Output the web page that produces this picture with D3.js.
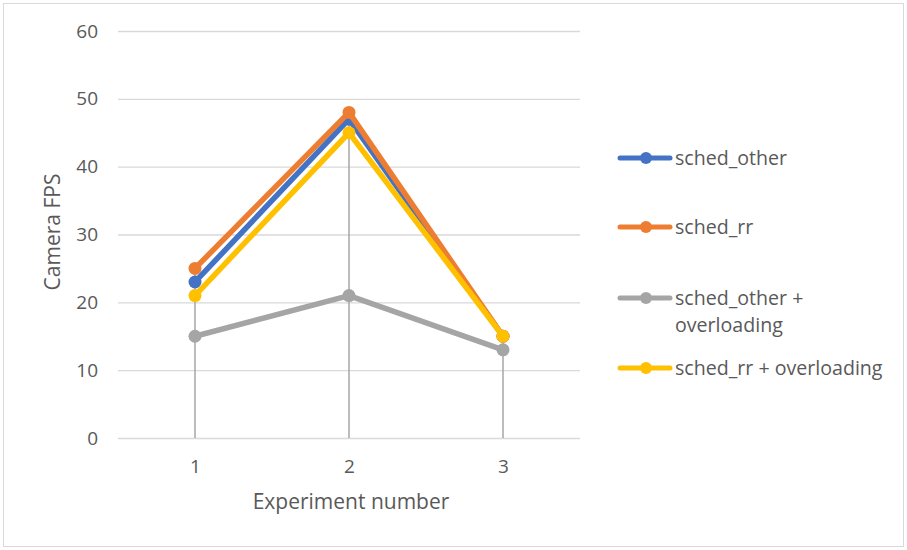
<!DOCTYPE html>
<html>
<head>
<meta charset="utf-8">
<script src="https://cdn.jsdelivr.net/npm/d3@7"></script>
<style>
  body { margin: 0; background: #fff; }
  text { font-family: "Open Sans", Lato, sans-serif; fill: #595959; }
</style>
</head>
<body>
<svg width="907" height="550"></svg>
<script>
let experiments = ['1', '2', '3']
let yTicks = [0, 10, 20, 30, 40, 50, 60]
let schedOther = [23, 47, 15]
let schedRr = [25, 48, 15]
let schedOtherOver = [15, 21, 13]
let schedRrOver = [21, 45, 15]

let series = [
  { name: ['sched_other'], values: schedOther, color: '#4472c4' },
  { name: ['sched_rr'], values: schedRr, color: '#ed7d31' },
  { name: ['sched_other +', 'overloading'], values: schedOtherOver, color: '#a5a5a5' },
  { name: ['sched_rr + overloading'], values: schedRrOver, color: '#ffc000' }
]

let svg = d3.select('svg')

svg.append('rect')
  .attr('x', 3.5).attr('y', 3.5)
  .attr('width', 900).attr('height', 543)
  .attr('fill', '#fff')
  .attr('stroke', '#d9d9d9')

let margin = { top: 31, left: 118, right: 580, bottom: 438 }

let x = d3.scalePoint()
  .domain(experiments)
  .range([margin.left, margin.right])
  .padding(0.5)

let y = d3.scaleLinear()
  .domain([0, 60])
  .range([margin.bottom, margin.top])

// gridlines + y tick labels
let yAxis = svg.append('g')
  .attr('transform', `translate(${margin.left},0)`)
  .call(d3.axisLeft(y).tickValues(yTicks).tickSize(-(margin.right - margin.left)).tickPadding(20))
yAxis.select('.domain').remove()
yAxis.selectAll('line').attr('stroke', '#d9d9d9').attr('stroke-width', 1.3)
yAxis.selectAll('text').style('font-size', '19px')

// drop lines
svg.append('g')
  .selectAll('line')
  .data(experiments)
  .join('line')
  .attr('x1', d => x(d)).attr('x2', d => x(d))
  .attr('y1', y(0))
  .attr('y2', (d, i) => y(d3.max(series, s => s.values[i])))
  .attr('stroke', '#a6a6a6')
  .attr('stroke-width', 1.5)

let xAxis = svg.append('g')
  .attr('transform', `translate(0,${margin.bottom})`)
  .call(d3.axisBottom(x).tickSize(0).tickPadding(22))
xAxis.select('.domain').remove()
xAxis.selectAll('text').style('font-size', '19px')

let line = d3.line()
  .x((d, i) => x(experiments[i]))
  .y(d => y(d))

series.forEach(s => {
  svg.append('path')
    .datum(s.values)
    .attr('d', line)
    .attr('fill', 'none')
    .attr('stroke', s.color)
    .attr('stroke-width', 5.5)
    .attr('stroke-linejoin', 'round')
    .attr('stroke-linecap', 'round')
  svg.append('g')
    .selectAll('circle')
    .data(s.values)
    .join('circle')
    .attr('cx', (d, i) => x(experiments[i]))
    .attr('cy', d => y(d))
    .attr('r', 6.5)
    .attr('fill', s.color)
})

// axis titles
svg.append('text')
  .attr('transform', `translate(60,232) rotate(-90)`)
  .attr('text-anchor', 'middle')
  .style('font-size', '21px')
  .text('Camera FPS')

svg.append('text')
  .attr('x', x('2') + 2)
  .attr('y', 509)
  .attr('text-anchor', 'middle')
  .style('font-size', '21px')
  .text('Experiment number')

// legend
let legendY = [158, 227, 298, 368]
let legend = svg.append('g')
series.forEach((s, i) => {
  let g = legend.append('g').attr('transform', `translate(0,${legendY[i]})`)
  g.append('line')
    .attr('x1', 620).attr('x2', 670)
    .attr('stroke', s.color).attr('stroke-width', 5)
    .attr('stroke-linecap', 'round')
  g.append('circle').attr('cx', 646).attr('r', 6).attr('fill', s.color)
  s.name.forEach((t, j) => {
    g.append('text')
      .attr('x', 675).attr('y', 7 + j * 27)
      .style('font-size', '19.6px')
      .text(t)
  })
})
</script>
</body>
</html>
